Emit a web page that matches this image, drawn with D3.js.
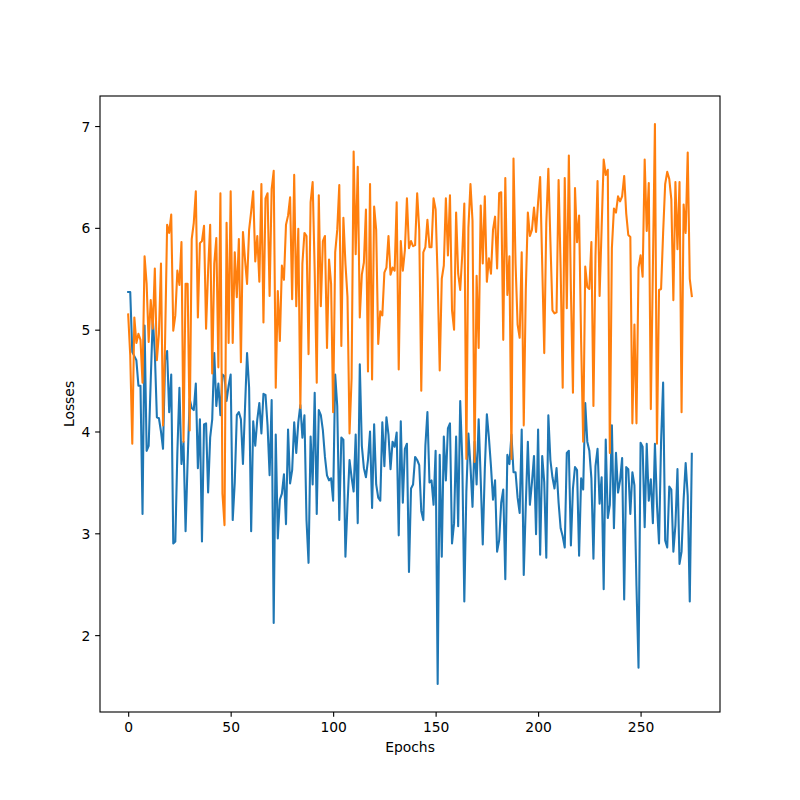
<!DOCTYPE html>
<html><head><meta charset="utf-8">
<script src="https://cdn.jsdelivr.net/npm/d3@7/dist/d3.min.js"></script>
<style>body{margin:0;background:#fff}svg{display:block}</style>
</head><body>
<svg id="chart" width="800" height="800"></svg>
<script>
// ---- data ----
const blueLoss = [
5.37,5.37,4.78,4.74,4.70,4.45,4.45,3.19,5.04,3.81,
3.86,4.50,5.12,4.77,4.14,4.13,4.00,3.83,4.70,4.79,
4.19,4.56,2.90,2.92,3.80,4.43,3.68,3.90,3.02,3.70,
4.32,4.23,4.21,4.47,3.64,4.12,2.92,4.07,4.08,3.40,
3.94,4.12,4.77,4.25,4.47,4.16,4.56,4.54,4.30,4.45,
4.56,3.13,3.50,4.16,4.19,4.12,3.68,4.23,4.77,4.43,
3.02,4.10,3.86,4.12,4.28,3.98,4.37,4.36,4.06,3.57,
4.31,2.12,3.97,2.95,3.33,3.39,3.58,3.09,4.02,3.49,
3.62,4.09,3.79,4.09,4.26,3.94,4.16,3.13,2.71,3.95,
3.48,4.38,3.19,4.21,4.16,4.01,3.75,3.57,3.52,3.54,
3.32,4.56,4.25,3.13,3.94,3.92,2.77,3.28,3.72,3.55,
3.41,3.97,3.10,4.66,3.86,3.64,3.55,3.72,4.00,3.25,
4.07,3.48,3.35,3.32,4.09,3.66,4.14,3.97,3.63,3.90,
3.85,3.99,2.98,4.10,3.30,3.83,3.88,2.62,3.44,3.48,
3.75,3.72,3.67,3.22,3.13,3.86,4.19,3.50,3.52,3.28,
3.81,1.52,3.77,2.77,3.95,3.52,4.03,4.08,2.90,3.10,
3.95,3.07,4.30,3.72,2.33,3.41,3.98,3.66,3.26,3.90,
3.48,4.12,3.53,2.89,3.63,4.17,3.94,3.66,3.33,3.52,
2.82,2.93,3.30,3.43,2.55,3.77,3.68,3.97,3.60,3.60,
3.35,3.20,4.02,2.59,3.28,3.90,3.28,3.50,3.76,2.99,
4.02,2.79,3.76,3.50,2.76,4.16,3.72,3.55,3.44,3.64,
3.30,3.05,2.97,2.86,3.79,3.81,2.88,3.44,3.65,3.62,
2.78,3.54,3.43,4.28,3.90,3.81,3.54,2.75,3.66,3.83,
3.29,3.55,2.45,3.92,3.15,3.28,4.06,3.05,3.79,3.40,
3.52,3.74,2.35,3.65,3.63,3.19,3.60,3.47,2.48,1.68,
3.89,3.85,3.06,3.88,3.32,3.53,3.10,3.88,3.28,2.90,
3.90,4.48,2.93,2.86,3.46,3.43,2.82,3.08,3.63,2.70,
2.82,3.33,3.69,3.37,2.33,3.78
];
const orangeLoss = [
5.15,4.75,3.88,5.12,4.87,4.96,4.90,4.48,5.72,5.45,
4.88,5.29,5.01,5.60,4.70,4.96,5.65,4.06,4.88,6.03,
5.95,6.13,4.99,5.14,5.58,5.44,5.86,3.90,5.45,5.45,
4.01,5.89,6.05,6.36,5.12,5.85,5.87,6.02,5.01,5.58,
6.03,4.57,5.65,5.90,4.63,6.34,3.39,3.08,6.05,4.87,
6.36,4.87,5.76,5.32,5.89,4.68,5.96,5.69,5.45,5.98,
6.16,6.36,5.67,5.92,5.47,6.43,5.07,6.29,6.34,5.33,
6.38,6.56,4.43,5.38,4.89,5.63,5.49,6.03,6.12,6.30,
5.30,6.52,5.23,5.99,4.23,5.65,5.95,5.92,4.76,6.25,
6.45,5.58,4.48,6.32,5.23,5.87,5.92,4.82,5.69,5.45,
4.19,5.76,5.98,6.42,4.84,6.10,5.65,5.32,3.98,4.52,
6.75,5.74,6.60,5.12,5.54,5.66,6.18,4.59,6.43,4.51,
6.21,5.98,4.86,5.18,5.14,5.56,5.61,5.92,5.54,5.61,
5.58,6.25,4.61,5.87,5.58,5.78,6.29,5.80,5.87,5.82,
5.83,6.34,5.98,4.40,5.76,5.81,6.08,5.81,5.81,6.29,
6.18,5.50,4.60,5.50,5.63,6.29,5.73,6.32,5.19,5.00,
6.15,5.55,5.39,5.74,6.24,3.73,6.00,6.43,6.07,3.70,
5.53,4.82,6.22,5.65,6.31,5.47,5.70,5.55,5.98,6.11,
5.60,6.34,6.35,4.90,6.49,5.34,5.72,3.73,6.68,5.65,
5.05,4.92,5.76,4.06,5.39,6.15,5.92,5.98,6.20,5.96,
6.25,6.50,5.65,4.77,6.05,6.58,5.87,5.19,5.16,5.17,
6.47,5.60,4.43,6.49,5.21,6.71,5.39,4.38,6.39,5.86,
6.12,4.88,3.90,5.62,5.42,5.40,5.86,4.25,5.72,6.46,
5.33,6.00,6.67,6.52,6.57,3.79,5.80,6.19,6.15,6.31,
6.26,6.31,6.51,6.14,5.93,5.91,4.08,5.05,4.08,5.61,
5.73,5.52,6.67,5.97,6.44,4.22,5.60,7.02,3.88,5.39,
5.40,5.95,6.43,6.55,6.48,6.28,5.29,6.45,5.79,6.45,
4.19,6.23,5.95,6.74,5.50,5.33
];
const xTickValues = [0, 50, 100, 150, 200, 250];
const yTickValues = [2, 3, 4, 5, 6, 7];
const xAxisLabel = "Epochs";
const yAxisLabel = "Losses";
const seriesColors = ["#1f77b4", "#ff7f0e"];

// ---- layout (matplotlib default 8x8in @100dpi) ----
const W = 800, H = 800;
const L = 100, R = 720, T = 96, B = 712;
const FONT = "'DejaVu Sans', sans-serif";
const FS = 13.89;
const TICK = 4.86;

const svg = d3.select("#chart");
svg.append("rect").attr("width", W).attr("height", H).attr("fill", "#fff");

const n = Math.max(blueLoss.length, orangeLoss.length);
const xMax = n - 1;
const xm = xMax * 0.05;
const x = d3.scaleLinear().domain([-xm, xMax + xm]).range([L, R]);

const all = blueLoss.concat(orangeLoss);
const yMin = d3.min(all), yMax = d3.max(all);
const ym = (yMax - yMin) * 0.05;
const y = d3.scaleLinear().domain([yMin - ym, yMax + ym]).range([B, T]);

const line = d3.line().x((d, i) => x(i)).y(d => y(d));

const plot = svg.append("g");
[blueLoss, orangeLoss].forEach((s, k) => {
  plot.append("path")
    .datum(s)
    .attr("d", line)
    .attr("fill", "none")
    .attr("stroke", seriesColors[k])
    .attr("stroke-width", 2.08)
    .attr("stroke-linejoin", "round")
    .attr("stroke-linecap", "square");
});

// axes
const xAxis = d3.axisBottom(x).tickValues(xTickValues).tickSize(TICK).tickSizeOuter(0).tickPadding(4.86).tickFormat(d3.format("d"));
const yAxis = d3.axisLeft(y).tickValues(yTickValues).tickSize(TICK).tickSizeOuter(0).tickPadding(4.86).tickFormat(d3.format("d"));

const gx = svg.append("g").attr("transform", `translate(0,${B})`).call(xAxis);
const gy = svg.append("g").attr("transform", `translate(${L},0)`).call(yAxis);
[gx, gy].forEach(g => {
  g.select(".domain").remove();
  g.selectAll(".tick line").attr("stroke", "#000").attr("stroke-width", 1.11);
  g.selectAll(".tick text").attr("fill", "#000").style("font-family", FONT).style("font-size", FS + "px");
});
gx.selectAll(".tick text").attr("dy", "0.76em");
gy.selectAll(".tick text").attr("dy", "0.36em");

// frame (spines)
svg.append("rect")
  .attr("x", L).attr("y", T).attr("width", R - L).attr("height", B - T)
  .attr("fill", "none").attr("stroke", "#000").attr("stroke-width", 1.11);

// labels
svg.append("text")
  .attr("x", (L + R) / 2).attr("y", 752)
  .attr("text-anchor", "middle")
  .style("font-family", FONT).style("font-size", FS + "px")
  .text(xAxisLabel);
svg.append("text")
  .attr("transform", `translate(73.5,${(T + B) / 2}) rotate(-90)`)
  .attr("text-anchor", "middle")
  .style("font-family", FONT).style("font-size", FS + "px")
  .text(yAxisLabel);
</script>
</body></html>
